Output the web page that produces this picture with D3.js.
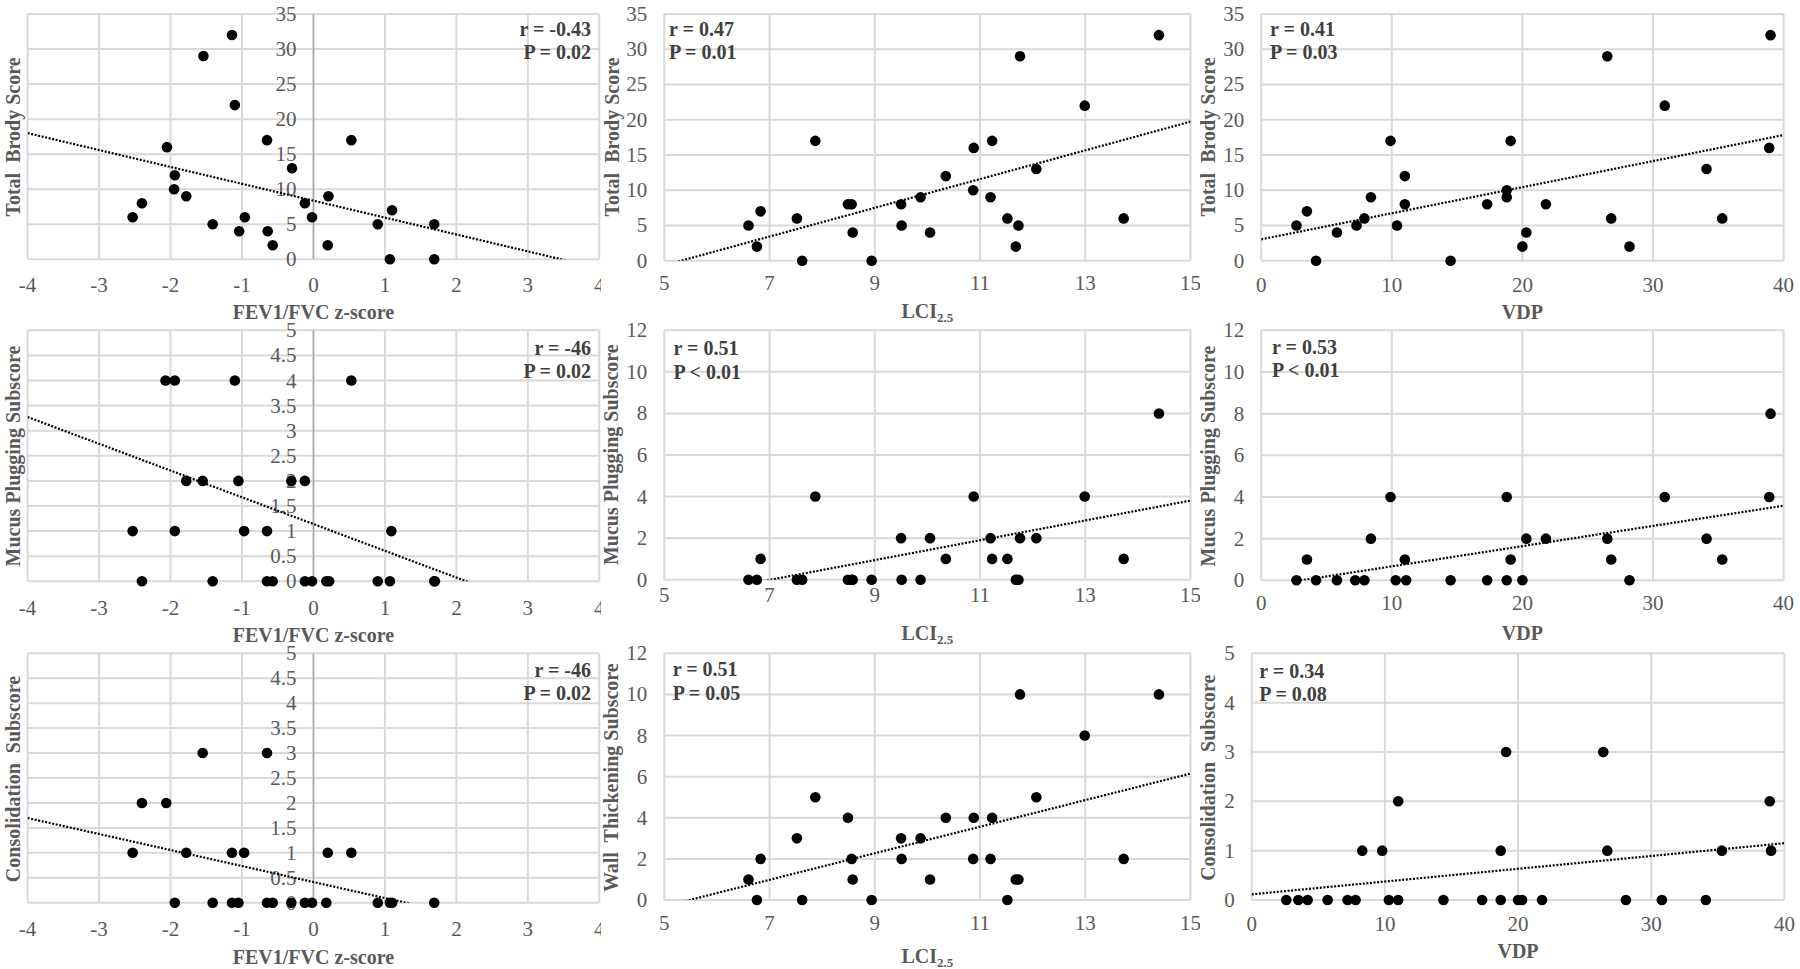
<!DOCTYPE html>
<html><head><meta charset="utf-8">
<script src="https://cdn.jsdelivr.net/npm/d3@7"></script>
<style>body{margin:0;background:#fff;} svg{display:block;font-family:"Liberation Serif","Times New Roman",serif;}</style>
</head><body><svg id="c" width="1800" height="969"></svg>
<script>
// ---------- tick labels ----------
const fevTicks = [-4, -3, -2, -1, 0, 1, 2, 3, 4];
const lciTicks = [5, 7, 9, 11, 13, 15];
const vdpTicks = [0, 10, 20, 30, 40];
const brodyTicks = [0, 5, 10, 15, 20, 25, 30, 35];
const halfTicks5 = [0, 0.5, 1, 1.5, 2, 2.5, 3, 3.5, 4, 4.5, 5];
const evenTicks12 = [0, 2, 4, 6, 8, 10, 12];
const intTicks5 = [0, 1, 2, 3, 4, 5];

// ---------- axis titles ----------
const fevTitle = "FEV1/FVC z-score";
const lciTitle = "LCI";
const lciSub = "2.5";
const vdpTitle = "VDP";
const brodyTitle = "Total  Brody Score";
const mucusTitle = "Mucus Plugging Subscore";
const consTitle = "Consolidation  Subscore";
const wallTitle = "Wall  Thickening Subscore";

// ---------- panel 1: FEV1/FVC z vs Brody ----------
const p1X = [-2.53, -2.40, -2.05, -1.94, -1.95, -1.78, -1.54, -1.41, -1.14, -1.10, -1.04, -0.96, -0.65, -0.64, -0.57, -0.30, -0.12, -0.02, 0.20, 0.21, 0.53, 0.90, 1.07, 1.10, 1.69, 1.69];
const p1Y = [6, 8, 16, 12, 10, 9, 29, 5, 32, 22, 4, 6, 17, 4, 2, 13, 8, 6, 2, 9, 17, 5, 0, 7, 5, 0];
const p1Fit = [8.36, -2.41];
const p1Stats = ["r = -0.43", "P = 0.02"];

// ---------- panel 2: LCI vs Brody ----------
const p2X = [6.60, 6.76, 6.83, 7.52, 7.62, 7.87, 8.49, 8.56, 8.58, 8.94, 9.50, 9.51, 9.87, 10.05, 10.35, 10.88, 10.87, 11.20, 11.23, 11.52, 11.73, 11.68, 11.76, 12.07, 12.99, 13.73, 14.40];
const p2Y = [5, 2, 7, 6, 0, 17, 8, 8, 4, 0, 8, 5, 9, 4, 12, 16, 10, 9, 17, 6, 5, 2, 29, 13, 22, 6, 32];
const p2Fit = [-10.84, 2.038];
const p2Stats = ["r = 0.47", "P = 0.01"];

// ---------- panel 3: VDP vs Brody ----------
const p3X = [2.7, 3.5, 4.2, 5.8, 7.3, 7.9, 8.4, 9.9, 10.4, 11.0, 11.0, 14.5, 17.3, 18.8, 18.8, 19.1, 20.0, 20.3, 21.8, 26.5, 26.8, 28.2, 30.9, 34.1, 35.3, 38.9, 39.0];
const p3Y = [5, 7, 0, 4, 5, 6, 9, 17, 5, 12, 8, 0, 8, 10, 9, 17, 2, 4, 8, 29, 6, 2, 22, 13, 6, 16, 32];
const p3Fit = [3.03, 0.37];
const p3Stats = ["r = 0.41", "P = 0.03"];

// ---------- panel 4: FEV1/FVC z vs Mucus plugging ----------
const p4X = [-2.07, -1.94, -1.10, 0.53, -1.78, -1.55, -1.05, -0.31, -0.12, -2.53, -1.94, -0.97, -0.65, 1.09, -2.40, -1.41, -0.65, -0.57, -0.12, -0.02, 0.18, 0.22, 0.90, 1.07, 1.69, 1.70];
const p4Y = [4, 4, 4, 4, 2, 2, 2, 2, 2, 1, 1, 1, 1, 1, 0, 0, 0, 0, 0, 0, 0, 0, 0, 0, 0, 0];
const p4Fit = [1.14, -0.533];
const p4Stats = ["r = -46", "P = 0.02"];

// ---------- panel 5: LCI vs Mucus plugging ----------
const p5X = [14.40, 7.87, 10.88, 12.99, 9.50, 10.05, 11.20, 11.76, 12.07, 6.83, 10.35, 11.23, 11.52, 13.73, 6.60, 6.76, 7.52, 7.62, 8.49, 8.56, 8.58, 8.94, 9.51, 9.87, 11.68, 11.73];
const p5Y = [8, 4, 4, 4, 2, 2, 2, 2, 2, 1, 1, 1, 1, 1, 0, 0, 0, 0, 0, 0, 0, 0, 0, 0, 0, 0];
const p5Fit = [-3.35, 0.477];
const p5Stats = ["r = 0.51", "P < 0.01"];

// ---------- panel 6: VDP vs Mucus plugging ----------
const p6X = [39.0, 9.9, 18.8, 30.9, 38.9, 8.4, 20.3, 21.8, 26.5, 34.1, 3.5, 11.0, 19.1, 26.8, 35.3, 2.7, 4.2, 5.8, 7.2, 7.9, 10.3, 11.1, 14.5, 17.3, 18.8, 20.0, 28.2];
const p6Y = [8, 4, 4, 4, 4, 2, 2, 2, 2, 2, 1, 1, 1, 1, 1, 0, 0, 0, 0, 0, 0, 0, 0, 0, 0, 0, 0];
const p6Fit = [-0.30, 0.097];
const p6Stats = ["r = 0.53", "P < 0.01"];

// ---------- panel 7: FEV1/FVC z vs Consolidation ----------
const p7X = [-1.55, -0.65, -2.40, -2.06, -2.53, -1.78, -1.14, -0.97, 0.20, 0.53, -1.94, -1.41, -1.14, -1.05, -0.65, -0.57, -0.31, -0.12, -0.02, 0.18, 0.90, 1.07, 1.10, 1.69];
const p7Y = [3, 3, 2, 2, 1, 1, 1, 1, 1, 1, 0, 0, 0, 0, 0, 0, 0, 0, 0, 0, 0, 0, 0, 0];
const p7Fit = [0.414, -0.321];
const p7Stats = ["r = -46", "P = 0.02"];

// ---------- panel 8: LCI vs Wall thickening ----------
const p8X = [11.76, 14.40, 12.99, 7.87, 12.07, 8.49, 10.35, 10.88, 11.23, 7.52, 9.50, 9.87, 6.83, 8.56, 9.51, 10.87, 11.20, 13.73, 6.60, 8.58, 10.05, 11.68, 11.73, 6.76, 7.62, 8.94, 11.52];
const p8Y = [10, 10, 8, 5, 5, 4, 4, 4, 4, 3, 3, 3, 2, 2, 2, 2, 2, 2, 1, 1, 1, 1, 1, 0, 0, 0, 0];
const p8Fit = [-3.54, 0.646];
const p8Stats = ["r = 0.51", "P = 0.05"];

// ---------- panel 9: VDP vs Consolidation ----------
const p9X = [19.1, 26.4, 11.0, 38.9, 8.3, 9.8, 18.7, 26.7, 35.3, 39.0, 2.6, 3.5, 4.2, 5.7, 7.2, 7.8, 10.3, 11.0, 14.4, 17.3, 18.7, 20.0, 20.3, 21.8, 28.1, 30.8, 34.1];
const p9Y = [3, 3, 2, 2, 1, 1, 1, 1, 1, 1, 0, 0, 0, 0, 0, 0, 0, 0, 0, 0, 0, 0, 0, 0, 0, 0, 0];
const p9Fit = [0.115, 0.0259];
const p9Stats = ["r = 0.34", "P = 0.08"];

// ---------- layout (positions only) ----------
const panels = [
  {x:p1X, y:p1Y, xt:fevTicks, yt:brodyTicks, fit:p1Fit, st:p1Stats, xTitle:fevTitle, yTitle:brodyTitle,
   xr:[27.6,599.3], yr:[259.3,14], clip:[0,0,601,322], zero:true, yT:[13,137], xLY:285, xTY:311.7, an:["end",591,36,59]},
  {x:p2X, y:p2Y, xt:lciTicks, yt:brodyTicks, fit:p2Fit, st:p2Stats, xTitle:lciTitle, sub:true, yTitle:brodyTitle,
   xr:[664.3,1190.5], yr:[260.7,14], clip:[601,0,599,322], yT:[611.5,137], xLY:283.3, xTY:311, an:["start",669,36,59]},
  {x:p3X, y:p3Y, xt:vdpTicks, yt:brodyTicks, fit:p3Fit, st:p3Stats, xTitle:vdpTitle, yTitle:brodyTitle,
   xr:[1261.2,1783.6], yr:[260.7,14], clip:[1200,0,600,322], yT:[1208.4,137], xLY:285, xTY:311.7, an:["start",1270,36,59]},
  {x:p4X, y:p4Y, xt:fevTicks, yt:halfTicks5, fit:p4Fit, st:p4Stats, xTitle:fevTitle, yTitle:mucusTitle,
   xr:[27.6,599.3], yr:[581.3,330.3], clip:[0,323,601,322], zero:true, yT:[13.4,456], xLY:608, xTY:634.7, an:["end",591,354.7,378]},
  {x:p5X, y:p5Y, xt:lciTicks, yt:evenTicks12, fit:p5Fit, st:p5Stats, xTitle:lciTitle, sub:true, yTitle:mucusTitle,
   xr:[664.3,1190.5], yr:[579.7,330.3], clip:[601,323,599,322], yT:[610.7,454.7], xLY:594.7, xTY:633, an:["start",673.5,355,379]},
  {x:p6X, y:p6Y, xt:vdpTicks, yt:evenTicks12, fit:p6Fit, st:p6Stats, xTitle:vdpTitle, yTitle:mucusTitle,
   xr:[1261.2,1783.6], yr:[580.3,330.3], clip:[1200,323,600,322], yT:[1208.4,456], xLY:603, xTY:633, an:["start",1272,354,377]},
  {x:p7X, y:p7Y, xt:fevTicks, yt:halfTicks5, fit:p7Fit, st:p7Stats, xTitle:fevTitle, yTitle:consTitle,
   xr:[27.6,599.3], yr:[902.7,653.3], clip:[0,646,601,323], zero:true, yT:[13.4,779], xLY:929.3, xTY:956.7, an:["end",591,677,700.3]},
  {x:p8X, y:p8Y, xt:lciTicks, yt:evenTicks12, fit:p8Fit, st:p8Stats, xTitle:lciTitle, sub:true, yTitle:wallTitle,
   xr:[664.3,1190.5], yr:[900,653.3], clip:[601,646,599,323], yT:[610.7,777.7], xLY:922.7, xTY:956, an:["start",672.7,676,700]},
  {x:p9X, y:p9Y, xt:vdpTicks, yt:intTicks5, fit:p9Fit, st:p9Stats, xTitle:vdpTitle, yTitle:consTitle,
   xr:[1251.7,1784.4], yr:[900,653.3], clip:[1200,646,600,323], yT:[1208.4,777.7], xLY:924.3, xTY:951, an:["start",1259.3,678,701]}
];

const svg = d3.select("#c");
const defs = svg.append("defs");
const TICK = "#595959", TITLE = "#595959", ANN = "#404040", GRID = "#d9d9d9";

panels.forEach((P, i) => {
  const xs = d3.scaleLinear().domain(d3.extent(P.xt)).range(P.xr);
  const ys = d3.scaleLinear().domain(d3.extent(P.yt)).range(P.yr);
  const c = P.clip;
  defs.append("clipPath").attr("id", "cl" + i).append("rect")
    .attr("x", c[0]).attr("y", c[1]).attr("width", c[2]).attr("height", c[3]);
  defs.append("clipPath").attr("id", "pl" + i).append("rect")
    .attr("x", P.xr[0]).attr("y", P.yr[1]).attr("width", P.xr[1] - P.xr[0]).attr("height", P.yr[0] - P.yr[1]);

  const g = svg.append("g").attr("clip-path", `url(#cl${i})`);

  // gridlines
  g.selectAll("line.h").data(P.yt).join("line").attr("class", "h")
    .attr("x1", xs.range()[0]).attr("x2", xs.range()[1])
    .attr("y1", d => ys(d)).attr("y2", d => ys(d))
    .attr("stroke", GRID).attr("stroke-width", 2);
  g.selectAll("line.v").data(P.xt).join("line").attr("class", "v")
    .attr("x1", d => xs(d)).attr("x2", d => xs(d))
    .attr("y1", ys.range()[0]).attr("y2", ys.range()[1])
    .attr("stroke", GRID).attr("stroke-width", 2);
  if (P.zero) {
    g.append("line").attr("x1", xs(0)).attr("x2", xs(0))
      .attr("y1", ys.range()[0]).attr("y2", ys.range()[1])
      .attr("stroke", "#ababab").attr("stroke-width", 1.5);
  }

  // y tick labels
  const axX = P.zero ? xs(0) : xs.range()[0];
  g.selectAll("text.yt").data(P.yt).join("text").attr("class", "yt")
    .attr("x", axX - 17).attr("y", d => ys(d))
    .attr("text-anchor", "end").attr("dominant-baseline", "central")
    .attr("font-size", 21).attr("fill", TICK).text(d => String(d));
  // x tick labels
  g.selectAll("text.xt").data(P.xt).join("text").attr("class", "xt")
    .attr("x", d => xs(d)).attr("y", P.xLY)
    .attr("text-anchor", "middle").attr("dominant-baseline", "central")
    .attr("font-size", 21).attr("fill", TICK).text(d => String(d));

  // trendline (dotted)
  const [d0, d1] = xs.domain();
  g.append("g").attr("clip-path", `url(#pl${i})`).append("line")
    .attr("x1", xs(d0)).attr("y1", ys(P.fit[0] + P.fit[1] * d0))
    .attr("x2", xs(d1)).attr("y2", ys(P.fit[0] + P.fit[1] * d1))
    .attr("stroke", "#000").attr("stroke-width", 2.2).attr("stroke-dasharray", "2,1.6");

  // points
  g.selectAll("circle").data(P.x.map((v, k) => [v, P.y[k]])).join("circle")
    .attr("cx", d => xs(d[0])).attr("cy", d => ys(d[1])).attr("r", 5.3).attr("fill", "#000");

  // stats annotation
  g.selectAll("text.an").data(P.st).join("text").attr("class", "an")
    .attr("x", P.an[1]).attr("y", (d, k) => k === 0 ? P.an[2] : P.an[3])
    .attr("text-anchor", P.an[0]).attr("font-size", 20).attr("font-weight", "bold")
    .attr("fill", ANN).text(d => d);

  // x title
  const xt = g.append("text").attr("x", (P.xr[0] + P.xr[1]) / 2).attr("y", P.xTY)
    .attr("text-anchor", "middle").attr("dominant-baseline", "central")
    .attr("font-size", 20).attr("font-weight", "bold").attr("fill", TITLE);
  xt.append("tspan").text(P.xTitle);
  if (P.sub) xt.append("tspan").attr("font-size", 13).attr("dy", 6).text(lciSub);

  // y title
  g.append("text").attr("transform", `translate(${P.yT[0]},${P.yT[1]}) rotate(-90)`)
    .attr("text-anchor", "middle").attr("dominant-baseline", "central")
    .attr("font-size", 20).attr("font-weight", "bold").attr("fill", TITLE)
    .style("white-space", "pre").text(P.yTitle);
});
</script></body></html>
